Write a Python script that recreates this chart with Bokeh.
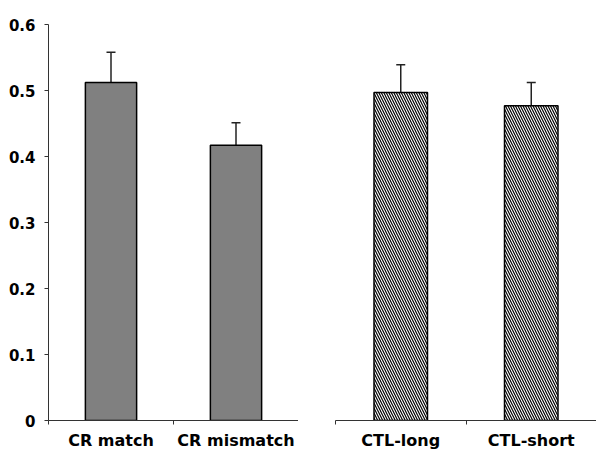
from bokeh.plotting import figure
from bokeh.layouts import row
from bokeh.models import ColumnDataSource, FixedTicker, Range1d, Whisker, TeeHead
from bokeh.embed import file_html
from bokeh.resources import INLINE

# ---- data ----
categories_cr = ["CR match", "CR mismatch"]
values_cr = [0.512, 0.417]
errors_cr = [0.046, 0.034]

categories_ctl = ["CTL-long", "CTL-short"]
values_ctl = [0.497, 0.477]
errors_ctl = [0.042, 0.035]

y_ticks = [0, 0.1, 0.2, 0.3, 0.4, 0.5, 0.6]
y_tick_labels = ["0", "0.1", "0.2", "0.3", "0.4", "0.5", "0.6"]

FONT = "DejaVu Sans"
AX_COLOR = "#333333"
FIG_H = 452


def make_source(cats, vals, errs):
    xs = [i + 0.5 for i in range(len(cats))]
    return ColumnDataSource(dict(
        x=xs, top=vals, upper=[v + e for v, e in zip(vals, errs)], cat=cats))


def style_xaxis(p, cats, boundaries):
    centers = [i + 0.5 for i in range(len(cats))]
    p.xaxis.ticker = FixedTicker(ticks=centers, minor_ticks=boundaries)
    p.xaxis.major_label_overrides = {c: lab for c, lab in zip(centers, cats)}
    p.xaxis.major_tick_out = 0
    p.xaxis.major_tick_in = 0
    p.xaxis.minor_tick_out = 4
    p.xaxis.minor_tick_in = 0
    p.xaxis.minor_tick_line_color = AX_COLOR
    p.xaxis.axis_line_color = AX_COLOR
    p.xaxis.major_label_text_font = FONT
    p.xaxis.major_label_text_font_style = "bold"
    p.xaxis.major_label_text_font_size = "16px"
    p.xaxis.major_label_text_color = "black"
    p.xaxis.major_label_standoff = 6


def base_fig(width, border_left, x_end):
    p = figure(width=width, height=FIG_H, output_backend="svg", toolbar_location=None,
               x_range=Range1d(0, x_end), y_range=Range1d(0, 0.6),
               min_border_left=border_left, min_border_right=0,
               min_border_top=24, min_border_bottom=30)
    p.outline_line_color = None
    p.xgrid.visible = False
    p.ygrid.visible = False
    p.background_fill_color = "white"
    p.border_fill_color = "white"
    return p


# ---- left panel ----
p1 = base_fig(298, 48, 2.0)
src1 = make_source(categories_cr, values_cr, errors_cr)
p1.vbar(x="x", top="top", width=0.41, source=src1,
        fill_color="#808080", line_color="black", line_width=1.5)
p1.add_layout(Whisker(source=src1, base="x", upper="upper", lower="top",
                      upper_head=TeeHead(size=9, line_width=1.5, line_color="#222222"),
                      lower_head=None, line_width=1.5, line_color="#222222"))
style_xaxis(p1, categories_cr, [0, 1, 2])
p1.yaxis.ticker = FixedTicker(ticks=y_ticks, minor_ticks=[])
p1.yaxis.major_label_overrides = {t: lab for t, lab in zip(y_ticks, y_tick_labels)}
p1.yaxis.major_tick_out = 4
p1.yaxis.major_tick_in = 0
p1.yaxis.minor_tick_out = 0
p1.yaxis.minor_tick_in = 0
p1.yaxis.axis_line_color = AX_COLOR
p1.yaxis.major_tick_line_color = AX_COLOR
p1.yaxis.major_label_text_font = FONT
p1.yaxis.major_label_text_font_style = "bold"
p1.yaxis.major_label_text_font_size = "15px"
p1.yaxis.major_label_text_color = "black"
p1.yaxis.major_label_standoff = 9

# ---- right panel ----
p2 = base_fig(298, 37, 2.0)
src2 = make_source(categories_ctl, values_ctl, errors_ctl)
p2.vbar(x="x", top="top", width=0.41, source=src2,
        fill_color="white", line_color="black", line_width=1.5,
        hatch_pattern="left_diagonal_line", hatch_color="black",
        hatch_scale=5, hatch_weight=1.2)
p2.add_layout(Whisker(source=src2, base="x", upper="upper", lower="top",
                      upper_head=TeeHead(size=9, line_width=1.5, line_color="#222222"),
                      lower_head=None, line_width=1.5, line_color="#222222"))
style_xaxis(p2, categories_ctl, [0, 1])
p2.yaxis.visible = False

layout = row(p1, p2, spacing=0)

html = file_html(layout, INLINE)
open("out.html", "w").write(html)
